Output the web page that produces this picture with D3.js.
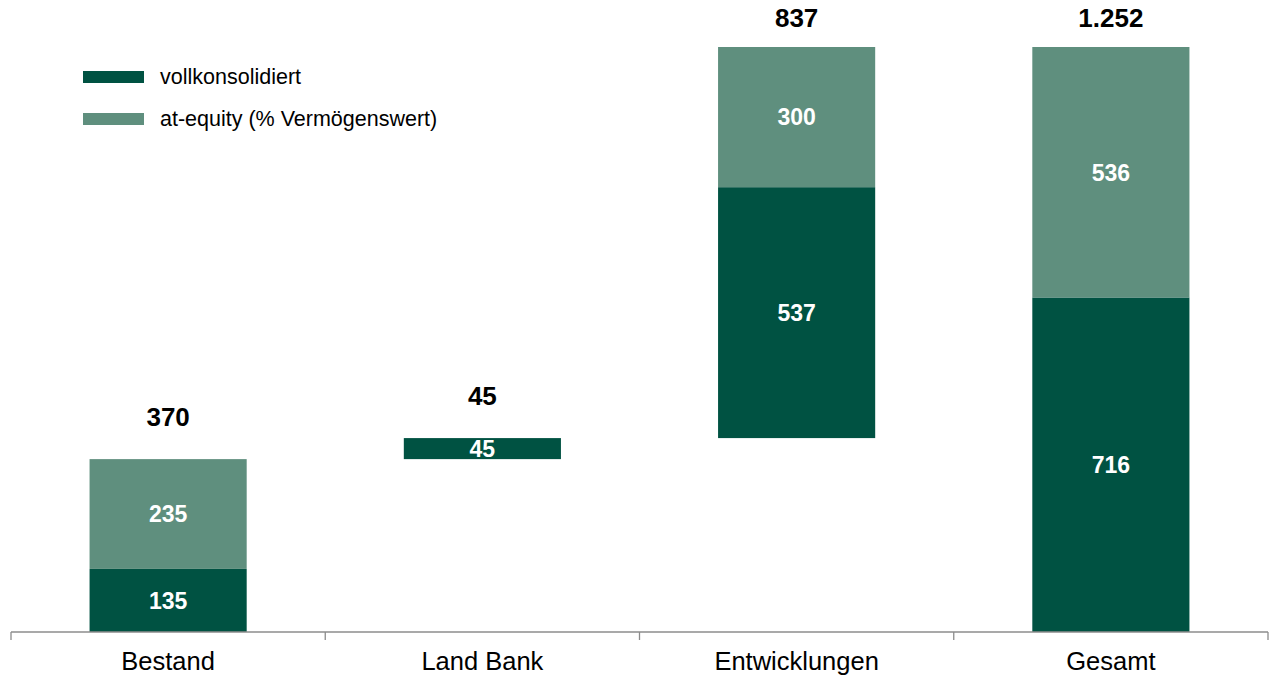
<!DOCTYPE html>
<html>
<head>
<meta charset="utf-8">
<script src="https://cdn.jsdelivr.net/npm/d3@7"></script>
<style>
  body { margin: 0; background: #fff; }
  text { font-family: "Liberation Sans", Arial, sans-serif; }
</style>
</head>
<body>
<div id="chart"></div>
<script>
// categories and series values (waterfall)
var categories = ["Bestand", "Land Bank", "Entwicklungen", "Gesamt"];
var vollkonsolidiert = [135, 45, 537, 716];
var atEquity = [235, 0, 300, 536];
var bases = [0, 370, 415, 0];          // floating start of each bar
var totalLabels = ["370", "45", "837", "1.252"];
var seriesNames = ["vollkonsolidiert", "at-equity (% Vermögenswert)"];
var colours = ["#005242", "#5f8f7e"];

var width = 1271, height = 678;
var margin = { left: 11, right: 3, top: 47, bottom: 46 };

var svg = d3.select("#chart")
  .append("svg")
    .attr("width", width)
    .attr("height", height);

var x = d3.scaleBand()
  .domain(categories)
  .range([margin.left, width - margin.right])
  .paddingInner(0)
  .paddingOuter(0);

var y = d3.scaleLinear()
  .domain([0, 1252])
  .range([height - margin.bottom, margin.top]);

var barW = x.bandwidth() / 2;

// build segments
var segments = [];
categories.forEach(function(c, i) {
  var b = bases[i];
  segments.push({ cat: c, y0: b, y1: b + vollkonsolidiert[i], v: vollkonsolidiert[i], s: 0 });
  if (atEquity[i] > 0) {
    segments.push({ cat: c, y0: b + vollkonsolidiert[i], y1: b + vollkonsolidiert[i] + atEquity[i], v: atEquity[i], s: 1 });
  }
});

svg.append("g").selectAll("rect")
  .data(segments)
  .enter().append("rect")
    .attr("x", function(d) { return x(d.cat) + (x.bandwidth() - barW) / 2; })
    .attr("y", function(d) { return y(d.y1); })
    .attr("width", barW)
    .attr("height", function(d) { return y(d.y0) - y(d.y1); })
    .attr("fill", function(d) { return colours[d.s]; });

// segment labels
svg.append("g").selectAll("text")
  .data(segments)
  .enter().append("text")
    .attr("x", function(d) { return x(d.cat) + x.bandwidth() / 2; })
    .attr("y", function(d) { return (y(d.y0) + y(d.y1)) / 2; })
    .attr("dy", "0.36em")
    .attr("text-anchor", "middle")
    .style("font-size", "23px")
    .style("font-weight", "bold")
    .style("fill", "#fff")
    .text(function(d) { return d.v; });

// total labels above bars
svg.append("g").selectAll("text")
  .data(categories)
  .enter().append("text")
    .attr("x", function(c) { return x(c) + x.bandwidth() / 2; })
    .attr("y", function(c, i) {
      var top = bases[i] + vollkonsolidiert[i] + atEquity[i];
      return Math.max(y(top) - 42, 18);
    })
    .attr("dy", "0.36em")
    .attr("text-anchor", "middle")
    .style("font-size", "26px")
    .style("font-weight", "bold")
    .style("fill", "#000")
    .text(function(c, i) { return totalLabels[i]; });

// x axis
var axis = svg.append("g")
  .attr("transform", "translate(0," + y(0) + ")");
axis.append("line")
  .attr("x1", margin.left).attr("x2", width - margin.right)
  .attr("stroke", "#8c8c8c").attr("stroke-width", 1.3);
var tickPos = categories.map(function(c) { return x(c); }).concat([x.range()[1]]);
axis.selectAll("line.tick")
  .data(tickPos)
  .enter().append("line")
    .attr("class", "tick")
    .attr("x1", function(d) { return d; }).attr("x2", function(d) { return d; })
    .attr("y1", 0).attr("y2", 8)
    .attr("stroke", "#8c8c8c").attr("stroke-width", 1.3);
axis.selectAll("text")
  .data(categories)
  .enter().append("text")
    .attr("x", function(c) { return x(c) + x.bandwidth() / 2; })
    .attr("y", 29)
    .attr("dy", "0.36em")
    .attr("text-anchor", "middle")
    .style("font-size", "25.5px")
    .style("fill", "#000")
    .text(function(c) { return c; });

// legend
var legend = svg.append("g").selectAll("g")
  .data(seriesNames)
  .enter().append("g")
    .attr("transform", function(d, i) { return "translate(83," + (71 + i * 42) + ")"; });
legend.append("rect")
  .attr("width", 61).attr("height", 12)
  .attr("fill", function(d, i) { return colours[i]; });
legend.append("text")
  .attr("x", 77).attr("y", 5)
  .attr("dy", "0.36em")
  .style("font-size", "21.5px")
  .style("fill", "#000")
  .text(function(d) { return d; });
</script>
</body>
</html>
